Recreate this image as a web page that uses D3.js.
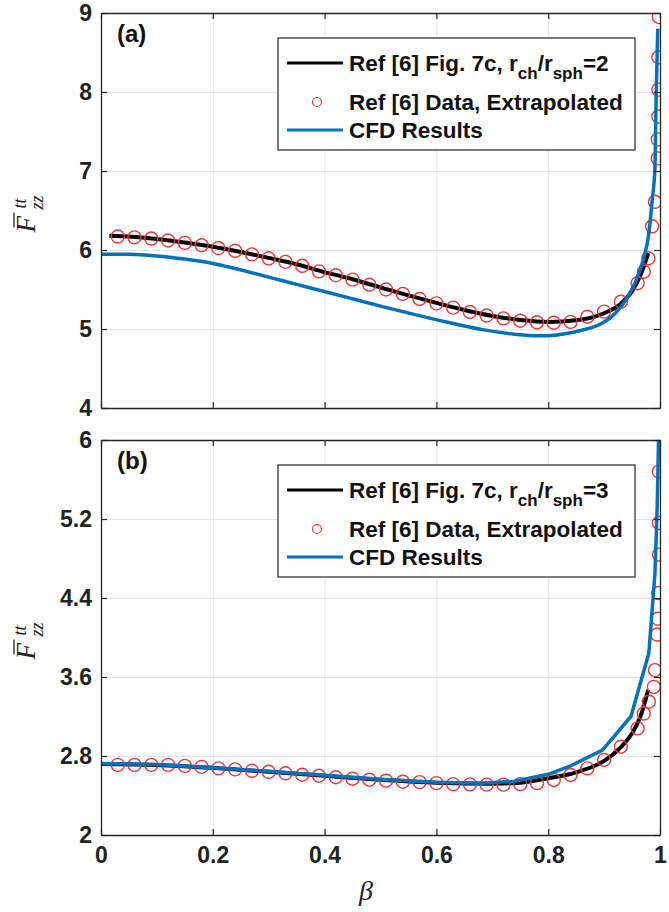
<!DOCTYPE html>
<html>
<head>
<meta charset="utf-8">
<script src="https://cdn.jsdelivr.net/npm/d3@7"></script>
<style>
  html, body { margin: 0; padding: 0; background: #fff; }
  svg { display: block; }
</style>
</head>
<body>
<div id="chart"></div>
<script>
// ---- DATA ----
var xTicks = [0, 0.2, 0.4, 0.6, 0.8, 1];
var xTickLabels = ["0", "0.2", "0.4", "0.6", "0.8", "1"];

var yTicksA = [4, 5, 6, 7, 8, 9];
var yTickLabelsA = ["4", "5", "6", "7", "8", "9"];
var yTicksB = [2, 2.8, 3.6, 4.4, 5.2, 6];
var yTickLabelsB = ["2", "2.8", "3.6", "4.4", "5.2", "6"];

// panel (a), r_ch/r_sph = 2
var refBetaA = [0.015, 0.05, 0.1, 0.15, 0.2, 0.25, 0.3, 0.35, 0.4, 0.45, 0.5, 0.55, 0.6, 0.65, 0.7, 0.75, 0.8, 0.85, 0.9, 0.93, 0.95, 0.965, 0.979];
var refValA  = [6.18, 6.17, 6.14, 6.095, 6.04, 5.975, 5.9, 5.82, 5.72, 5.63, 5.525, 5.425, 5.33, 5.24, 5.165, 5.115, 5.09, 5.11, 5.2, 5.32, 5.48, 5.68, 5.96];

var dataBetaA = [0.03, 0.06, 0.09, 0.12, 0.15, 0.18, 0.21, 0.24, 0.27, 0.30, 0.33, 0.36, 0.39, 0.42, 0.45, 0.48, 0.51, 0.54, 0.57, 0.60, 0.63, 0.66, 0.69, 0.72, 0.75, 0.78, 0.81, 0.84, 0.87, 0.90, 0.93, 0.96, 0.971, 0.979, 0.986, 0.991, 0.996, 0.996, 0.997, 0.997, 0.997, 0.998];
var dataValA  = [6.17, 6.16, 6.145, 6.12, 6.09, 6.06, 6.025, 5.99, 5.945, 5.895, 5.85, 5.80, 5.73, 5.68, 5.625, 5.56, 5.50, 5.445, 5.38, 5.325, 5.27, 5.215, 5.17, 5.135, 5.105, 5.085, 5.08, 5.09, 5.155, 5.22, 5.345, 5.58, 5.725, 5.895, 6.30, 6.61, 7.16, 7.40, 7.69, 8.03, 8.44, 8.95];

var cfdBetaA = [0, 0.05, 0.1, 0.15, 0.2, 0.26, 0.32, 0.38, 0.44, 0.50, 0.56, 0.62, 0.68, 0.74, 0.78, 0.80, 0.83, 0.86, 0.89, 0.92, 0.94, 0.955, 0.968, 0.98, 0.986, 0.991, 0.993, 0.996];
var cfdValA  = [5.945, 5.945, 5.925, 5.885, 5.83, 5.73, 5.62, 5.51, 5.40, 5.29, 5.185, 5.085, 4.995, 4.935, 4.915, 4.915, 4.94, 4.985, 5.05, 5.2, 5.38, 5.58, 5.83, 6.21, 6.63, 7.05, 7.9, 8.8];

// panel (b), r_ch/r_sph = 3
var refBetaB = [0, 0.1, 0.2, 0.3, 0.4, 0.5, 0.6, 0.7, 0.75, 0.8, 0.85, 0.9, 0.93, 0.95, 0.965, 0.979];
var refValB  = [2.72, 2.71, 2.68, 2.64, 2.60, 2.56, 2.53, 2.52, 2.53, 2.575, 2.635, 2.75, 2.89, 3.03, 3.2, 3.47];

var dataBetaB = [0.03, 0.06, 0.09, 0.12, 0.15, 0.18, 0.21, 0.24, 0.27, 0.30, 0.33, 0.36, 0.39, 0.42, 0.45, 0.48, 0.51, 0.54, 0.57, 0.60, 0.63, 0.66, 0.69, 0.72, 0.75, 0.78, 0.81, 0.84, 0.87, 0.90, 0.93, 0.96, 0.971, 0.98, 0.989, 0.991, 0.995, 0.996, 0.997, 0.998, 0.998, 0.998];
var dataValB  = [2.71, 2.71, 2.71, 2.71, 2.70, 2.69, 2.675, 2.665, 2.65, 2.64, 2.625, 2.61, 2.60, 2.585, 2.57, 2.56, 2.55, 2.54, 2.535, 2.525, 2.515, 2.513, 2.51, 2.51, 2.515, 2.525, 2.557, 2.608, 2.675, 2.76, 2.894, 3.08, 3.23, 3.35, 3.50, 3.67, 4.03, 4.19, 4.45, 4.84, 5.16, 5.68];

var cfdBetaB = [0, 0.1, 0.2, 0.3, 0.4, 0.5, 0.6, 0.68, 0.74, 0.8, 0.84, 0.897, 0.948, 0.98, 0.991, 0.995, 0.998];
var cfdValB  = [2.725, 2.715, 2.68, 2.645, 2.605, 2.565, 2.535, 2.525, 2.545, 2.615, 2.70, 2.86, 3.2, 3.84, 4.65, 5.32, 6.2];

var legendLabels = ["Ref [6] Fig. 7c, r", "Ref [6] Data, Extrapolated", "CFD Results"];

// ---- CANVAS ----
var W = 669, H = 912;
var fontSans = "'Liberation Sans', Arial, sans-serif";
var fontSerif = "'Liberation Serif', 'DejaVu Serif', serif";
var axisColor = "#262626",
    gridColor = "#e3e3e3",
    blue = "#0072bd",
    red = "#e8393b";

var svg = d3.select("#chart").append("svg")
    .attr("width", W)
    .attr("height", H);

var xScale = d3.scaleLinear().domain([0, 1]).range([101, 660]);

function zip(a, b) { return a.map(function(d, i) { return [d, b[i]]; }); }

function drawPanel(opts) {
    var y = d3.scaleLinear().domain(opts.domain).range(opts.range);
    var top = opts.range[1], bottom = opts.range[0];
    var left = xScale.range()[0], right = xScale.range()[1];
    var g = svg.append("g");

    // grid
    g.append("g")
        .attr("transform", "translate(0," + bottom + ")")
        .call(d3.axisBottom(xScale).tickValues(xTicks).tickSize(-(bottom - top)).tickFormat(""))
        .call(function(s) { s.select(".domain").remove(); s.selectAll("line").attr("stroke", gridColor); });
    g.append("g")
        .attr("transform", "translate(" + left + ",0)")
        .call(d3.axisLeft(y).tickValues(opts.yTicks).tickSize(-(right - left)).tickFormat(""))
        .call(function(s) { s.select(".domain").remove(); s.selectAll("line").attr("stroke", gridColor); });

    // data
    var clipId = "clip" + opts.id;
    svg.append("clipPath").attr("id", clipId)
        .append("rect").attr("x", left).attr("y", top).attr("width", right - left).attr("height", bottom - top);
    var plot = g.append("g").attr("clip-path", "url(#" + clipId + ")");

    var line = d3.line()
        .x(function(d) { return xScale(d[0]); })
        .y(function(d) { return y(d[1]); });

    plot.append("path")
        .datum(zip(opts.refBeta, opts.refVal))
        .attr("fill", "none").attr("stroke", "#000").attr("stroke-width", 4)
        .attr("d", line.curve(d3.curveMonotoneX));

    plot.selectAll("circle")
        .data(zip(opts.dataBeta, opts.dataVal))
        .enter().append("circle")
        .attr("cx", function(d) { return xScale(d[0]); })
        .attr("cy", function(d) { return y(d[1]); })
        .attr("r", 6.5)
        .attr("fill", "none").attr("stroke", red).attr("stroke-width", 1.4);

    plot.append("path")
        .datum(zip(opts.cfdBeta, opts.cfdVal))
        .attr("fill", "none").attr("stroke", blue).attr("stroke-width", 3.5)
        .attr("stroke-linejoin", "round")
        .attr("d", line.curve(opts.cfdCurve));

    // axes, ticks inward on all four sides
    function styleAxis(s) {
        s.select(".domain").attr("stroke", axisColor).attr("stroke-width", 1.3);
        s.selectAll(".tick line").attr("stroke", axisColor).attr("stroke-width", 1.2);
        s.selectAll("text").attr("fill", "#222").attr("font-family", fontSans)
            .attr("font-weight", "bold").attr("font-size", 23);
    }
    g.append("g")
        .attr("transform", "translate(0," + bottom + ")")
        .call(d3.axisBottom(xScale).tickValues(xTicks).tickSizeInner(-6).tickSizeOuter(0).tickPadding(12)
            .tickFormat(function(d, i) { return opts.xLabels ? xTickLabels[i] : ""; }))
        .call(styleAxis);
    g.append("g")
        .attr("transform", "translate(0," + top + ")")
        .call(d3.axisTop(xScale).tickValues(xTicks).tickSizeInner(-6).tickSizeOuter(0).tickFormat(""))
        .call(styleAxis);
    g.append("g")
        .attr("transform", "translate(" + left + ",0)")
        .call(d3.axisLeft(y).tickValues(opts.yTicks).tickSizeInner(-6).tickSizeOuter(0).tickPadding(9)
            .tickFormat(function(d, i) { return opts.yLabels[i]; }))
        .call(styleAxis);
    g.append("g")
        .attr("transform", "translate(" + right + ",0)")
        .call(d3.axisRight(y).tickValues(opts.yTicks).tickSizeInner(-6).tickSizeOuter(0).tickFormat(""))
        .call(styleAxis);

    // panel label
    g.append("text")
        .attr("x", 117).attr("y", top + 29)
        .attr("font-family", fontSans).attr("font-weight", "bold").attr("font-size", 24)
        .attr("fill", "#111")
        .text(opts.label);

    // y label  F-bar ^tt _zz
    var cy = (top + bottom) / 2;
    var yl = g.append("g").attr("transform", "translate(30," + cy + ") rotate(-90)");
    yl.append("text").attr("x", -22).attr("y", 5)
        .attr("font-family", fontSerif).attr("font-style", "italic").attr("font-size", 27)
        .attr("fill", "#222").text("F");
    yl.append("line").attr("x1", -17).attr("x2", -2).attr("y1", -16).attr("y2", -16)
        .attr("stroke", "#222").attr("stroke-width", 1.3);
    yl.append("text").attr("x", 2).attr("y", -4)
        .attr("font-family", fontSerif).attr("font-style", "italic").attr("font-size", 18)
        .attr("fill", "#222").text("tt");
    yl.append("text").attr("x", 1).attr("y", 13)
        .attr("font-family", fontSerif).attr("font-style", "italic").attr("font-size", 18)
        .attr("fill", "#222").text("zz");

    // legend
    var lg = g.append("g").attr("transform", "translate(278," + (top + 25) + ")");
    lg.append("rect").attr("x", 0).attr("y", 0).attr("width", 357).attr("height", 112)
        .attr("fill", "#fff").attr("stroke", axisColor).attr("stroke-width", 1.2);
    var rows = [25, 64, 92];
    lg.append("line").attr("x1", 9).attr("x2", 65).attr("y1", rows[0]).attr("y2", rows[0])
        .attr("stroke", "#000").attr("stroke-width", 3);
    lg.append("circle").attr("cx", 39).attr("cy", rows[1]).attr("r", 4.5)
        .attr("fill", "none").attr("stroke", red).attr("stroke-width", 1.2);
    lg.append("line").attr("x1", 9).attr("x2", 65).attr("y1", rows[2]).attr("y2", rows[2])
        .attr("stroke", blue).attr("stroke-width", 3);

    var t1 = lg.append("text").attr("x", 71).attr("y", rows[0] + 8)
        .attr("font-family", fontSans).attr("font-weight", "bold").attr("font-size", 22.5).attr("fill", "#111");
    t1.append("tspan").text(legendLabels[0]);
    t1.append("tspan").attr("dy", 8).attr("font-size", 17).text("ch");
    t1.append("tspan").attr("dy", -8).text("/r");
    t1.append("tspan").attr("dy", 8).attr("font-size", 17).text("sph");
    t1.append("tspan").attr("dy", -8).text("=" + opts.ratio);

    lg.selectAll("text.row")
        .data(legendLabels.slice(1))
        .enter().append("text")
        .attr("class", "row")
        .attr("x", 71)
        .attr("y", function(d, i) { return rows[i + 1] + 8; })
        .attr("font-family", fontSans).attr("font-weight", "bold").attr("font-size", 22.5).attr("fill", "#111")
        .text(function(d) { return d; });
}

drawPanel({
    id: "a", label: "(a)", ratio: 2,
    domain: [4, 9], range: [408, 13],
    yTicks: yTicksA, yLabels: yTickLabelsA, xLabels: false,
    refBeta: refBetaA, refVal: refValA,
    dataBeta: dataBetaA, dataVal: dataValA,
    cfdBeta: cfdBetaA, cfdVal: cfdValA, cfdCurve: d3.curveMonotoneX
});

drawPanel({
    id: "b", label: "(b)", ratio: 3,
    domain: [2, 6], range: [835, 440],
    yTicks: yTicksB, yLabels: yTickLabelsB, xLabels: true,
    refBeta: refBetaB, refVal: refValB,
    dataBeta: dataBetaB, dataVal: dataValB,
    cfdBeta: cfdBetaB, cfdVal: cfdValB, cfdCurve: d3.curveLinear
});

// x label
svg.append("text")
    .attr("x", 366).attr("y", 900)
    .attr("text-anchor", "middle")
    .attr("font-family", fontSerif).attr("font-style", "italic").attr("font-size", 28)
    .attr("fill", "#222")
    .text("β");
</script>
</body>
</html>
